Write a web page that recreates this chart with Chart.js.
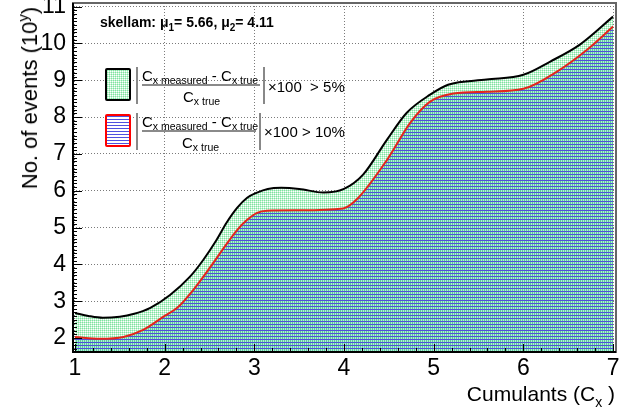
<!DOCTYPE html>
<html lang="en">
<head>
  <meta charset="UTF-8">
  <title>Skellam cumulants</title>
  <script src="https://cdn.jsdelivr.net/npm/chart.js"></script>
  <style>
    body {
      margin: 0;
      background: #fff;
      font-family: 'Liberation Sans', Arial, Helvetica, sans-serif;
      color: #000;
    }

    #wrap {
      position: relative;
      width: 636px;
      height: 413px;
    }

    .t {
      position: absolute;
      white-space: nowrap;
      line-height: 1;
    }

    .s {
      position: relative;
      top: 3px;
      font-size: 10.5px;
    }

    .box {
      position: absolute;
      box-sizing: border-box;
      width: 26px;
      height: 33px;
      left: 105px;
      border-radius: 2px;
    }

    .bar {
      position: absolute;
      width: 2px;
      height: 37px;
      background: #888;
    }

    .frac {
      position: absolute;
      height: 2px;
      background: #8a8a8a;
    }
  </style>
</head>
<body>
  <div id="wrap">
    <canvas id="chart" width="636" height="413"></canvas>

    <div class="t" style="left:30px; top:98px; font-size:22px; transform:translate(-50%,-50%) rotate(-90deg);">No. of events (10<span style="font-size:15px; position:relative; top:-9px;">y</span>)</div>
    <div class="t" style="right:21px; top:383px; font-size:21px;">Cumulants (C<span style="font-size:14px; position:relative; top:6px;">x</span> )</div>

    <div class="t" style="left:100px; top:15px; font-size:14px; font-weight:bold;">skellam: μ<span style="font-size:10px; position:relative; top:4px;">1</span>= 5.66, μ<span style="font-size:10px; position:relative; top:4px;">2</span>= 4.11</div>

    <!-- 5% entry -->
    <div class="box" id="box5" style="top:68px; border:2px solid #000;"></div>
    <div class="bar" style="left:136px; top:67px;"></div>
    <div class="t" style="left:142px; top:68px; font-size:15px;">C<span class="s">x measured</span> - C<span class="s">x true</span></div>
    <div class="frac" style="left:142px; top:84px; width:118px;"></div>
    <div class="t" style="left:183px; top:89px; font-size:15px;">C<span class="s">x true</span></div>
    <div class="bar" style="left:263px; top:67px;"></div>
    <div class="t" style="left:268px; top:79px; font-size:15px;">×100&nbsp; &gt; 5%</div>

    <!-- 10% entry -->
    <div class="box" style="top:114px; border:2px solid #f00; background:repeating-linear-gradient(to bottom, #5050e0 0 1px, #fff 1px 3px);"></div>
    <div class="bar" style="left:136px; top:113px;"></div>
    <div class="t" style="left:142px; top:114px; font-size:15px;">C<span class="s">x measured</span> - C<span class="s">x true</span></div>
    <div class="frac" style="left:142px; top:130px; width:114px;"></div>
    <div class="t" style="left:182px; top:135px; font-size:15px;">C<span class="s">x true</span></div>
    <div class="bar" style="left:259px; top:113px;"></div>
    <div class="t" style="left:264px; top:124px; font-size:15px;">×100 &gt; 10%</div>
  </div>

  <script>
    // upper band edge (5%) and lower band edge (10%)
    const xBlack = [1.0, 1.15, 1.31, 1.5, 1.65, 1.84, 2.06, 2.28, 2.43, 2.58, 2.69, 2.81, 2.92, 3.03, 3.15, 3.3, 3.5, 3.77, 4.0, 4.21, 4.48, 4.7, 4.96, 5.16, 5.59, 6.0, 6.3, 6.63, 7.0];
    const yBlack = [2.68, 2.6, 2.55, 2.58, 2.65, 2.82, 3.17, 3.66, 4.12, 4.67, 5.13, 5.54, 5.81, 5.95, 6.05, 6.08, 6.05, 5.95, 6.05, 6.43, 7.39, 8.12, 8.61, 8.88, 9.02, 9.15, 9.51, 9.97, 10.73];

    const xRed = [1.0, 1.28, 1.54, 1.76, 2.0, 2.14, 2.32, 2.51, 2.66, 2.81, 2.92, 3.03, 3.14, 3.5, 3.99, 4.14, 4.48, 4.74, 4.96, 5.22, 5.59, 6.0, 6.37, 6.71, 7.0];
    const yRed = [2.03, 1.98, 2.03, 2.22, 2.6, 2.82, 3.31, 3.93, 4.45, 4.94, 5.21, 5.4, 5.46, 5.47, 5.52, 5.76, 6.84, 7.85, 8.42, 8.64, 8.69, 8.77, 9.23, 9.83, 10.46];

    const xTicks = [1, 2, 3, 4, 5, 6, 7];
    const yTicks = [2, 3, 4, 5, 6, 7, 8, 9, 10, 11];

    const fontFam = "'Liberation Sans', Arial, Helvetica, sans-serif";

    function makeTile(w, h, colors) {
      const c = document.createElement('canvas');
      c.width = w;
      c.height = h;
      const g = c.getContext('2d');
      for (let j = 0; j < h; j++) {
        for (let i = 0; i < w; i++) {
          g.fillStyle = colors[j * w + i];
          g.fillRect(i, j, 1, 1);
        }
      }
      return c;
    }

    const greenTile = makeTile(2, 2, ['#7fe3a0', '#c0f2d0', '#c0f2d0', '#ffffff']);
    const blueTile = makeTile(2, 3, [
      '#5050d8', '#5050d8',
      '#5ccf98', '#b0e8d8',
      '#5ccf98', '#b0e8d8'
    ]);

    document.getElementById('box5').style.backgroundImage = 'url(' + greenTile.toDataURL() + ')';

    const ctx = document.getElementById('chart').getContext('2d');
    const greenPat = ctx.createPattern(greenTile, 'repeat');
    const bluePat = ctx.createPattern(blueTile, 'repeat');

    // frame + inner tick marks
    const framePlugin = {
      id: 'frame',
      afterDraw(chart) {
        const { left, right, top, bottom } = chart.chartArea;
        const sx = chart.scales.x, sy = chart.scales.y;
        const c = chart.ctx;
        c.save();
        c.strokeStyle = '#000';
        c.lineWidth = 1;
        c.beginPath();
        for (let v = 1; v <= 7.001; v += 0.2) {
          const px = Math.round(sx.getPixelForValue(v)) + 0.5;
          const major = Math.abs(v - Math.round(v)) < 0.01;
          c.moveTo(px, bottom);
          c.lineTo(px, bottom - (major ? 8 : 4));
        }
        for (let v = 1.7; v <= 11.05; v += 0.1) {
          const py = Math.round(sy.getPixelForValue(v)) + 0.5;
          const major = Math.abs(v - Math.round(v)) < 0.01;
          c.moveTo(left, py);
          c.lineTo(left + (major ? 9 : 4), py);
        }
        c.stroke();

        c.lineWidth = 2;
        c.strokeStyle = '#666';
        c.strokeRect(left, top, right - left, bottom - top);
        c.strokeStyle = '#000';
        c.beginPath();
        c.moveTo(left, top);
        c.lineTo(left, bottom);
        c.lineTo(right, bottom);
        c.stroke();
        c.restore();
      }
    };

    function noPad(s) {
      s.paddingTop = 0;
      s.paddingBottom = 0;
      s.paddingLeft = 0;
      s.paddingRight = 0;
    }

    const chart = new Chart(ctx, {
      type: 'line',
      data: {
        datasets: [{
          label: '> 5%',
          data: xBlack.map((x, i) => ({ x: x, y: yBlack[i] })),
          borderColor: '#000',
          borderWidth: 2,
          backgroundColor: greenPat,
          fill: 'start',
          pointRadius: 0,
          cubicInterpolationMode: 'monotone',
          order: 2
        }, {
          label: '> 10%',
          data: xRed.map((x, i) => ({ x: x, y: yRed[i] })),
          borderColor: '#e3261b',
          borderWidth: 2,
          backgroundColor: bluePat,
          fill: 'start',
          pointRadius: 0,
          cubicInterpolationMode: 'monotone',
          order: 1
        }]
      },
      options: {
        responsive: false,
        animation: false,
        devicePixelRatio: 1,
        layout: { padding: { left: 0, top: 3, right: 20, bottom: 0 } },
        plugins: {
          legend: { display: false },
          tooltip: { enabled: false }
        },
        scales: {
          x: {
            type: 'linear',
            min: 0.978,
            max: 7.033,
            z: 1,
            afterFit(s) { s.height = 61; noPad(s); },
            afterBuildTicks(s) { s.ticks = xTicks.map(v => ({ value: v })); },
            ticks: {
              font: { size: 23, family: fontFam },
              color: '#000',
              padding: 3,
              maxRotation: 0
            },
            grid: { color: '#7a7a7a', lineWidth: 1, drawTicks: false },
            border: { display: false, dash: [1, 2] }
          },
          y: {
            min: 1.62,
            max: 11.1,
            z: 1,
            afterFit(s) { s.width = 73; noPad(s); },
            afterBuildTicks(s) { s.ticks = yTicks.map(v => ({ value: v })); },
            ticks: {
              font: { size: 23, family: fontFam },
              color: '#000',
              padding: 7
            },
            grid: { color: '#7a7a7a', lineWidth: 1, drawTicks: false },
            border: { display: false, dash: [1, 2] }
          }
        }
      },
      plugins: [framePlugin]
    });
  </script>
</body>
</html>
